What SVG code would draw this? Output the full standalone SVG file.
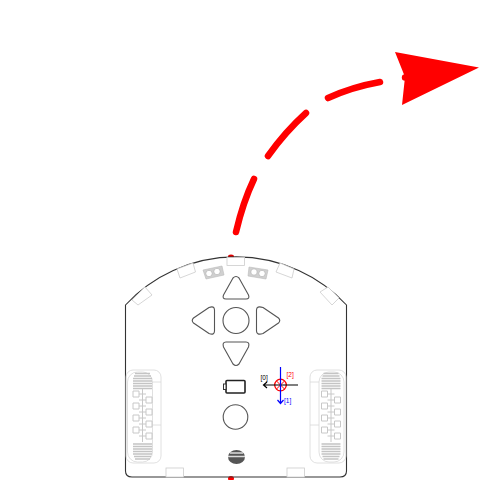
<svg xmlns="http://www.w3.org/2000/svg" width="480" height="480" viewBox="0 0 480 480">
<style>
.body{fill:none;stroke:#333;stroke-width:1.100}
.btn{fill:none;stroke:#555;stroke-width:1.100;stroke-linejoin:round}
.led{fill:#fff;stroke:#ccc;stroke-width:.8}
.sensor{fill:#d0d0d0;stroke:#bbb;stroke-width:.6}
.hole{fill:#fff;stroke:#aaa;stroke-width:.6}
.w{fill:none;stroke:#d8d8d8;stroke-width:.8}
.t{fill:#fff;stroke:#c8c8c8;stroke-width:1}
.h{fill:none;stroke:#c4c4c4;stroke-width:1.500}
.path{fill:none;stroke:#f00;stroke-width:6.500;stroke-linecap:round}
text{font-family:"Liberation Sans",Arial,sans-serif;font-size:6.5px}
</style>
<defs>
<g id="wheelTread">
<path class="h" d="M2 1.500H17M1 4H18M0 6.500H19M0 9H19M0 11.500H19M0 14H19M0 16.500H19M0 72H19M0 74.500H19M0 77H19M0 79.500H19M0 82H19M1 84.500H18M2 87H17"/>
<path class="t" d="M0 19h6v6h-6zM13 25h6v6h-6zM0 31h6v6h-6zM13 37h6v6h-6zM0 43h6v6h-6zM13 49h6v6h-6zM0 55h6v6h-6zM13 61h6v6h-6z"/>
<path class="t" d="M6 22H13M13 28H6M6 34H13M13 40H6M6 46H13M13 52H6M6 58H13M13 64H6M9.500 17V70"/>
</g>
</defs>
<g id="path-arrow">
<path class="path" d="M236 232Q243 202 254 179"/>
<path class="path" d="M268 156Q285 132 306 113"/>
<path class="path" d="M328 98Q352 87 380 82"/>
<circle cx="405" cy="77.500" r="3.200" fill="#f00"/>
<polygon points="395,52 479,67.500 402,105 405,77" fill="#f00"/>
</g>
<g id="robot-body">
<ellipse cx="231" cy="256.500" rx="3" ry="2" fill="#e00000"/>
<ellipse cx="231" cy="478.500" rx="3" ry="2.500" fill="#f00"/>
<path class="body" d="M125.500 305A151 151 0 0 1 346.500 305V471Q346.500 477 340 477H132Q125.500 477 125.500 471Z"/>
</g>
<g id="leds">
<rect class="led" x="227" y="257.500" width="17.500" height="8"/>
<polygon class="led" points="177,269 193,263 195.500,272 180,278"/>
<polygon class="led" points="132,300 145,287 152,295 138,305"/>
<polygon class="led" points="280,263 294,269 292,278 276,272"/>
<polygon class="led" points="320,292 328,287 339,298 332,305"/>
<rect class="led" x="166" y="468" width="17.500" height="9"/>
<rect class="led" x="287" y="468" width="17.500" height="9"/>
</g>
<g id="sensor-left">
<polygon class="sensor" points="203,270 222,266 224,275 206,279"/>
<circle class="hole" cx="209" cy="273.500" r="3.200"/><circle class="hole" cx="217" cy="271.500" r="3.200"/>
</g>
<g id="sensor-right">
<polygon class="sensor" points="249,267 268,270 266,279 248,276"/>
<circle class="hole" cx="254" cy="272" r="3.200"/><circle class="hole" cx="262" cy="273.500" r="3.200"/>
</g>
<g id="buttons">
<path class="btn" d="M233 278Q236 275 239 278L248.500 295Q250 299 246 299H226Q222 299 223.500 295Z"/>
<path class="btn" d="M233 364Q236 367 239 364L248.500 347Q250 342 246 342H226Q222 342 223.500 347Z"/>
<path class="btn" d="M193.500 318Q191 320.500 193.500 323L209 333.500Q214.500 335.500 214.500 331V310Q214.500 305.500 209 307.500Z"/>
<path class="btn" d="M278.500 318Q281 320.500 278.500 323L263 333.500Q256.500 335.500 256.500 331V310Q256.500 305.500 263 307.500Z"/>
<circle class="btn" cx="236" cy="320.500" r="13"/>
<circle class="btn" cx="235.500" cy="417" r="12.300"/>
</g>
<g id="battery">
<rect x="226" y="380.500" width="19" height="12.500" rx="1" fill="#fff" stroke="#222" stroke-width="1.600"/>
<rect x="223.500" y="384" width="2.500" height="5.500" fill="#fff" stroke="#333" stroke-width="1"/>
</g>
<g id="speaker">
<ellipse cx="236.500" cy="457" rx="8.500" ry="7" fill="#555"/>
<path d="M230 453H243M228 456.500H245" stroke="#ddd" stroke-width="1.300"/>
</g>
<g id="wheel-left">
<rect class="w" x="126" y="370" width="35" height="93" rx="7"/>
<rect class="w" x="127.500" y="372" width="25" height="90" rx="10"/>
<path class="w" d="M152 382H161M152 425H161"/>
<use href="#wheelTread" x="133" y="372"/>
</g>
<g id="wheel-right">
<rect class="w" x="310" y="370" width="36" height="93" rx="7"/>
<rect class="w" x="319" y="372" width="25" height="90" rx="10"/>
<path class="w" d="M310 382H319M310 425H319"/>
<use href="#wheelTread" x="321.500" y="372"/>
</g>
<g id="axes">
<circle cx="280.500" cy="385" r="5.800" fill="none" stroke="#f00" stroke-width="1.300"/>
<path d="M276.500 381L284.500 389M284.500 381L276.500 389" stroke="#f00" stroke-width="1"/>
<path d="M298 385H263.500M267 382L263.500 385L267 388" fill="none" stroke="#000" stroke-width="1.200"/>
<path d="M280.500 367V403.500M277.500 400L280.500 403.500L283.500 400" fill="none" stroke="#00f" stroke-width="1.200"/>
<text x="260.500" y="380" fill="#000">[0]</text>
<text x="286.500" y="377" fill="#f00">[2]</text>
<text x="284" y="403" fill="#00f">[1]</text>
</g>
</svg>
